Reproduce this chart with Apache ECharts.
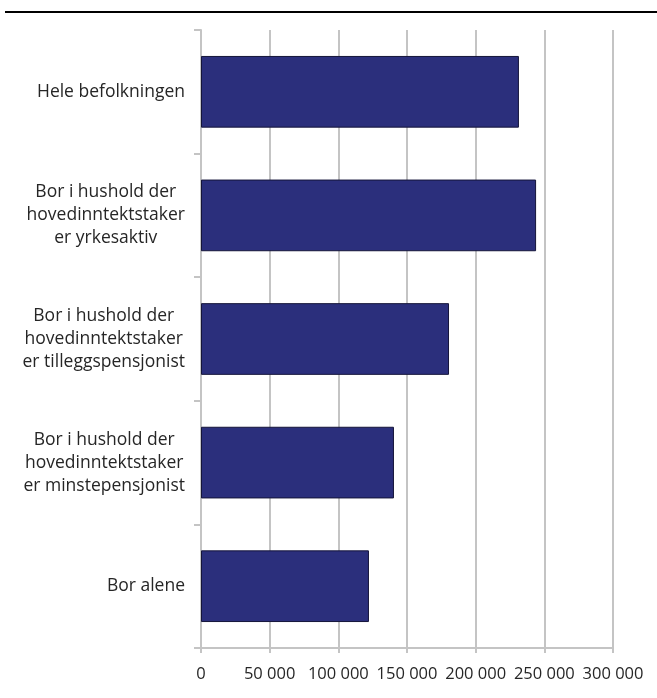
<!DOCTYPE html>
<html>
<head>
<meta charset="utf-8">
<script src="https://cdn.jsdelivr.net/npm/echarts@6/dist/echarts.min.js"></script>
<style>
  html, body { margin: 0; padding: 0; background: #fff; }
  #chart { width: 657px; height: 698px; }
</style>
</head>
<body>
<div id="chart"></div>
<script>
// kategorier, ovenfra og ned
const categories = [
  'Hele befolkningen',
  'Bor i hushold der\nhovedinntektstaker\ner yrkesaktiv',
  'Bor i hushold der\nhovedinntektstaker\ner tilleggspensjonist',
  'Bor i hushold der\nhovedinntektstaker\ner minstepensjonist',
  'Bor alene'
];
const values = [231500, 244000, 180600, 140500, 122300];
const xTicks = [0, 50000, 100000, 150000, 200000, 250000, 300000];

const chart = echarts.init(document.getElementById('chart'));
const font = '"Open Sans", "Noto Sans", sans-serif';
const grey = '#c4c4c4';
const textColor = '#262626';

chart.setOption({
  animation: false,
  graphic: [{
    type: 'line',
    shape: { x1: 5, y1: 12, x2: 657, y2: 12 },
    style: { stroke: '#000', lineWidth: 2 }
  }],
  grid: { left: 201, right: 44, top: 30, bottom: 50 },
  xAxis: {
    type: 'value',
    min: xTicks[0],
    max: xTicks[xTicks.length - 1],
    interval: 50000,
    axisLine: { show: true, lineStyle: { color: grey, width: 2 } },
    axisTick: { show: true, length: 5, lineStyle: { color: grey, width: 2 } },
    splitLine: { show: true, lineStyle: { color: grey, width: 2 } },
    axisLabel: {
      margin: 18,
      fontFamily: font,
      fontSize: 16.5,
      color: textColor,
      formatter: v => String(v).replace(/\B(?=(\d{3})+(?!\d))/g, ' ')
    }
  },
  yAxis: {
    type: 'category',
    inverse: true,
    data: categories,
    axisLine: { show: true, lineStyle: { color: grey, width: 2 } },
    axisTick: { show: true, length: 7, lineStyle: { color: grey, width: 2 } },
    axisLabel: {
      margin: 16,
      fontFamily: font,
      fontSize: 17.5,
      lineHeight: 23,
      color: textColor,
      align: 'right',
      formatter: v => v.split('\n').map(s => '{c|' + s + '}').join('\n'),
      rich: {
        c: { align: 'center', fontFamily: font, fontSize: 17.5, lineHeight: 23, color: textColor }
      }
    }
  },
  series: [{
    type: 'bar',
    data: values,
    barCategoryGap: '42%',
    itemStyle: {
      color: '#2b2f7c',
      borderColor: '#15153a',
      borderWidth: 1
    }
  }]
});
</script>
</body>
</html>
